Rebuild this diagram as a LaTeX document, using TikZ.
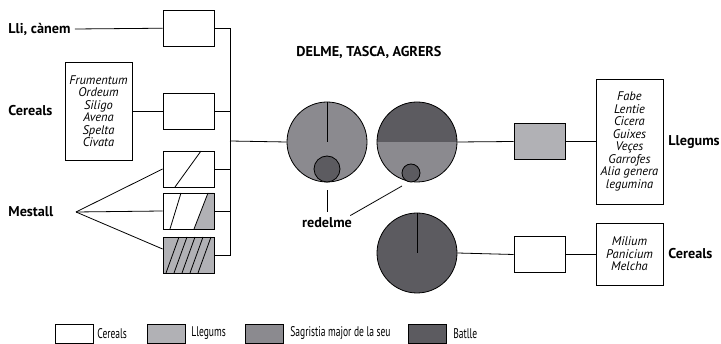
\documentclass[tikz,border=0pt]{standalone}
\usepackage{fontspec}
\setmainfont{PT Sans}
\newfontfamily\estret{PT Sans}[FakeStretch=0.68]
\definecolor{cLleg}{HTML}{B1B1B5}
\definecolor{cSagr}{HTML}{8B8A8F}
\definecolor{cBatl}{HTML}{5C5B60}
\tikzset{
  box/.style={draw,rectangle,minimum width=51pt,minimum height=36pt,inner sep=0pt},
  llista/.style={draw,rectangle,align=center,inner sep=0pt,
    font=\itshape\fontsize{12.5}{12.5}\selectfont},
  etiq/.style={font=\bfseries\fontsize{14.2}{16}\selectfont,inner sep=0pt},
  rod/.style={draw,circle,inner sep=0pt},
  llegenda/.style={draw,rectangle,minimum width=38pt,minimum height=19pt,inner sep=0pt},
}
\begin{document}
\begin{tikzpicture}[x=1pt,y=-1pt,line width=0.8pt]
    \useasboundingbox (0,0) rectangle (721,344);
    % left side
    \node[etiq,anchor=west] (lli) at (8,29) {Lli, cànem};
    \node[etiq,anchor=west] (cer1) at (8,111) {Cereals};
    \node[etiq,anchor=west] (mest) at (8,212) {Mestall};
    \node[llista,minimum width=67pt,minimum height=98pt] (l1) at (98.5,111)
        {Frumentum\\Ordeum\\Siligo\\Avena\\Spelta\\Civata};
    \node[box] (b1) at (188.5,28) {};
    \node[box] (b2) at (188.5,111) {};
    \node[box,path picture={
        \draw ([xshift=12.5pt]path picture bounding box.north)
           -- ([xshift=-13.5pt]path picture bounding box.south);}] (b3) at (188.5,169) {};
    \node[box,path picture={
        \fill[cLleg] ([xshift=19.5pt]path picture bounding box.north)
           -- (path picture bounding box.north east)
           -- (path picture bounding box.south east)
           -- ([xshift=5.5pt]path picture bounding box.south) -- cycle;
        \draw ([xshift=19.5pt]path picture bounding box.north)
           -- ([xshift=5.5pt]path picture bounding box.south);
        \draw ([xshift=-7.5pt]path picture bounding box.north)
           -- ([xshift=-18.5pt]path picture bounding box.south);}] (b4) at (188.5,211) {};
    \node[box,fill=cLleg,path picture={
        \foreach \i in {0,...,4}
            \draw ([xshift=-9.5pt+8*\i pt]path picture bounding box.north)
               -- ([xshift=-22.5pt+8*\i pt]path picture bounding box.south);}] (b5) at (188.5,255) {};
    \coordinate (bt) at (230,28);
    \coordinate (bb) at (230,255);
    \coordinate (bm) at (230,141);
    \coordinate (apex) at (76,212);
    \draw ([xshift=4pt]lli.east) -- (b1);
    \draw (l1.east |- b2) -- (b2);
    \draw (b1.east) -- (bt) -- (bb) -- (b5.east);
    \foreach \n in {b2,b3,b4}
        \draw (\n.east) -- (\n.east -| bt);
    \draw (apex) -- (b3.west);
    \draw (apex) -- (b4.west);
    \draw (apex) -- ([yshift=6pt]b5.west);
    % circles
    \node[etiq] (titol) at (369,52) {DELME, TASCA, AGRERS};
    \node[rod,fill=cSagr,minimum size=80pt] (c1) at (327,142) {};
    \node[rod,fill=cSagr,minimum size=80pt,path picture={
        \fill[cBatl] (path picture bounding box.north west)
           rectangle (path picture bounding box.east);}] (c2) at (417,142) {};
    \node[rod,fill=cBatl,minimum size=80pt] (c3) at (417,253) {};
    \draw (c1.north) -- (c1.center);
    \draw (c3.north) -- (c3.center);
    \node[rod,fill=cBatl,minimum size=26pt] (s1) at (327,169) {};
    \node[rod,fill=cBatl,minimum size=18pt] (s2) at (411,173) {};
    \node[etiq] (rd) at (327,223) {redelme};
    \coordinate (rp) at (402,186);
    \draw ([yshift=-8pt]c1.south) -- ([yshift=6pt]rd.north);
    \draw ([xshift=-2pt,yshift=2pt]rd.north east) -- (rp);
    \draw (bm) -- (c1.west);
    % right side
    \node[box,fill=cLleg] (b7) at (539.5,141.5) {};
    \node[llista,minimum width=67pt,minimum height=125pt] (l2) at (629.5,141.5)
        {Fabe\\Lentie\\Cicera\\Guixes\\Veçes\\Garrofes\\Alia genera\\legumina};
    \node[etiq,anchor=west] (lleg) at (668,142) {Llegums};
    \node[box] (b6) at (539.5,254.5) {};
    \node[llista,minimum width=67pt,minimum height=62pt] (l3) at (629.5,254)
        {Milium\\Panicium\\Melcha};
    \node[etiq,anchor=west] (cer2) at (668,254) {Cereals};
    \draw (c2.east) -- (b7.west);
    \draw (b7.east) -- (l2.west |- b7);
    \draw (c3.east) -- (b6.west);
    \draw (b6.east) -- (l3.west |- b6);
    % legend
    \foreach \x/\c/\t/\lx in {74/white/Cereals/97, 166/cLleg/Llegums/191,
        264.5/cSagr/Sagristia major de la seu/290, 427.5/cBatl/Batlle/453} {
        \node[llegenda,fill=\c] (q\x) at (\x,333.5) {};
        \node[anchor=west,inner sep=0pt,font=\estret\fontsize{14}{16}\selectfont] at (\lx,333.5) {\t};
    }
\end{tikzpicture}
\end{document}
